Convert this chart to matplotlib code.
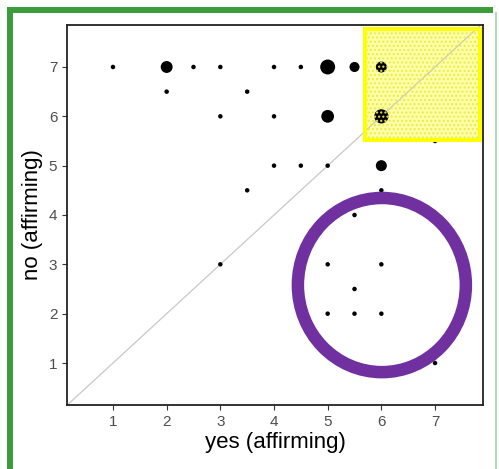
import matplotlib
matplotlib.use("Agg")
import matplotlib.pyplot as plt
from matplotlib.patches import Rectangle, Ellipse
from matplotlib.lines import Line2D

plt.rcParams['font.family'] = ['Liberation Sans', 'DejaVu Sans']

# ratings: yes (affirming) vs no (affirming), n = number of responses
yes = [1, 2, 2.5, 3, 4, 4.5, 5, 5.5, 6,
       2, 3.5,
       3, 4, 5, 6,
       7,
       4, 4.5, 5, 6,
       3.5, 6,
       5.5,
       3, 5, 6,
       5.5,
       5, 5.5, 6,
       7]
no = [7, 7, 7, 7, 7, 7, 7, 7, 7,
      6.5, 6.5,
      6, 6, 6, 6,
      5.5,
      5, 5, 5, 5,
      4.5, 4.5,
      4,
      3, 3, 3,
      2.5,
      2, 2, 2,
      1]
n = [1, 7, 1, 1, 1, 1, 11, 5, 6,
     1, 1,
     1, 1, 8, 10,
     1,
     1, 1, 1, 6,
     1, 1,
     1,
     1, 1, 1,
     1,
     1, 1, 1,
     1]

xticks = [1, 2, 3, 4, 5, 6, 7]
yticks = [1, 2, 3, 4, 5, 6, 7]

fig = plt.figure(figsize=(4.99, 4.69), dpi=100)
ax = fig.add_axes([67/499, 64/469, 416/499, 380/469])

ax.axline((0, 0), (1, 1), color='#c8c8c8', lw=0.9, zorder=1.5)
ax.scatter(yes, no, s=[10.5*k for k in n], color='black', lw=0, zorder=2)

ax.set_xlim(0.143, 7.894)
ax.set_ylim(0.149, 7.851)
ax.set_xticks(xticks)
ax.set_yticks(yticks)
ax.tick_params(labelsize=11, labelcolor='#4d4d4d', color='#333333',
               length=3.5, width=0.8)
for sp in ax.spines.values():
    sp.set_linewidth(1.3)
    sp.set_color('#222222')

ax.set_xlabel('yes (affirming)', fontsize=16, labelpad=2)
ax.set_ylabel('no (affirming)', fontsize=16, labelpad=4)

# highlighted region top right: pale fill under the points, dots over them
ax.add_patch(Rectangle((5.70, 5.52), 2.14, 2.25, facecolor='#ffffa6',
                       lw=0, zorder=1))
ax.add_patch(Rectangle((5.70, 5.52), 2.14, 2.25, facecolor='none',
                       edgecolor='#eaea50', hatch='....', lw=0, zorder=3))
ax.add_patch(Rectangle((5.70, 5.52), 2.14, 2.25, facecolor='none',
                       edgecolor='#ffff00', lw=2.9, zorder=4))

# ring around lower right
ax.add_patch(Ellipse((6.01, 2.58), 3.13, 3.53, facecolor='none',
                     edgecolor='#7030a0', lw=9.0, zorder=4))

# green frame
W, H = 499, 469
fig.add_artist(Line2D([10/W, 10/W], [0, 1 - 7/H], color='#3a9d3a', lw=4.3,
                      transform=fig.transFigure, solid_capstyle='butt'))
fig.add_artist(Line2D([7/W, 493/W], [1 - 10/H, 1 - 10/H], color='#3a9d3a', lw=4.3,
                      transform=fig.transFigure, solid_capstyle='butt'))
fig.add_artist(Line2D([496/W, 496/W], [0, 1 - 12/H], color='#a5d6a5', lw=1.2,
                      transform=fig.transFigure, solid_capstyle='butt'))

fig.savefig('out.png', dpi=100)
